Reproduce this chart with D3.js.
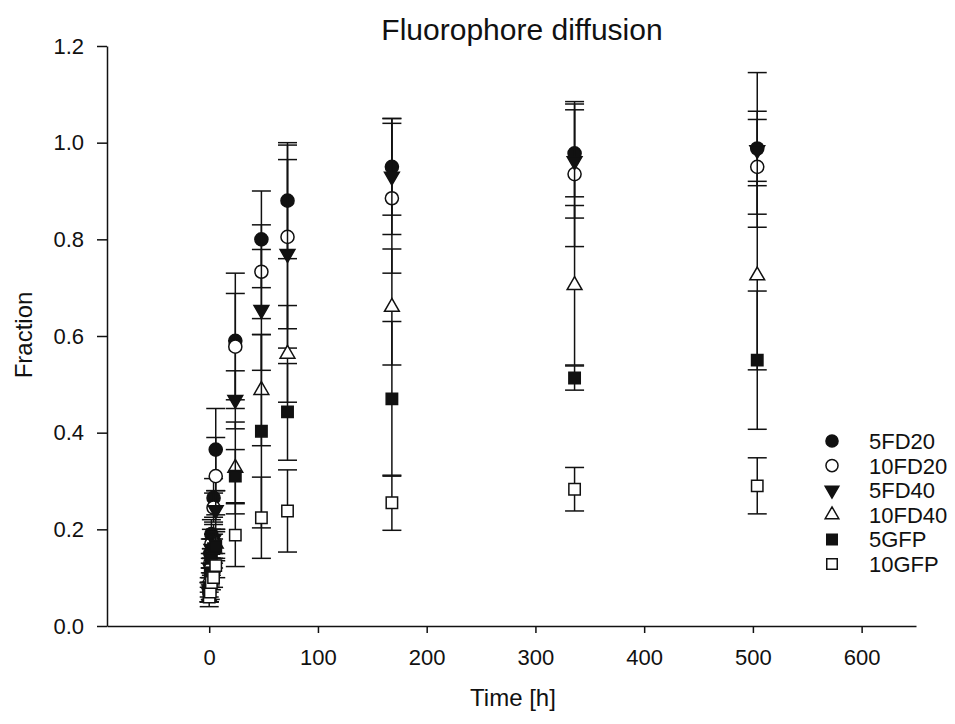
<!DOCTYPE html>
<html>
<head>
<meta charset="utf-8">
<script src="https://cdn.jsdelivr.net/npm/d3@7"></script>
<style>
  body { margin: 0; background: #fff; }
  svg { display: block; }
  text { font-family: "Liberation Sans", Arial, sans-serif; fill: #111; }
</style>
</head>
<body>
<svg id="chart" width="955" height="724"></svg>
<script>
// sampling times [h]
const times = [0, 1, 2, 4, 6, 24, 48, 72, 168, 336, 504];

// mean fractions per series
const fd20_5  = [0.08, 0.15, 0.19, 0.265, 0.365, 0.59, 0.80, 0.88, 0.95, 0.978, 0.988];
const fd20_10 = [0.07, 0.13, 0.17, 0.245, 0.31, 0.578, 0.733, 0.805, 0.885, 0.935, 0.95];
const fd40_5  = [0.07, 0.12, 0.16, 0.18, 0.24, 0.468, 0.654, 0.77, 0.93, 0.962, 0.985];
const fd40_10 = [0.06, 0.10, 0.13, 0.16, 0.17, 0.327, 0.488, 0.563, 0.66, 0.705, 0.725];
const gfp_5   = [0.07, 0.11, 0.14, 0.16, 0.165, 0.31, 0.403, 0.443, 0.47, 0.513, 0.55];
const gfp_10  = [0.06, 0.07, 0.09, 0.10, 0.125, 0.188, 0.224, 0.238, 0.255, 0.283, 0.29];

// standard deviations
const fd20_5_err  = [0.02, 0.03, 0.03, 0.04, 0.085, 0.14, 0.10, 0.12, 0.10, 0.09, 0.077];
const fd20_10_err = [0.02, 0.02, 0.03, 0.03, 0.08, 0.11, 0.097, 0.19, 0.155, 0.15, 0.098];
const fd40_5_err  = [0.02, 0.02, 0.02, 0.03, 0.04, 0.06, 0.125, 0.195, 0.12, 0.118, 0.16];
const fd40_10_err = [0.02, 0.02, 0.02, 0.03, 0.03, 0.095, 0.115, 0.10, 0.12, 0.165, 0.195];
const gfp_5_err   = [0.02, 0.02, 0.02, 0.02, 0.03, 0.055, 0.20, 0.10, 0.16, 0.025, 0.143];
const gfp_10_err  = [0.01, 0.015, 0.015, 0.02, 0.025, 0.065, 0.084, 0.085, 0.057, 0.045, 0.058];

const seriesNames = ['5FD20', '10FD20', '5FD40', '10FD40', '5GFP', '10GFP'];
const xTicks = [0, 100, 200, 300, 400, 500, 600];
const yTicks = [0, 0.2, 0.4, 0.6, 0.8, 1.0, 1.2];

const series = [
  { name: seriesNames[0], values: fd20_5,  err: fd20_5_err,  shape: 'circle',   filled: true },
  { name: seriesNames[1], values: fd20_10, err: fd20_10_err, shape: 'circle',   filled: false },
  { name: seriesNames[2], values: fd40_5,  err: fd40_5_err,  shape: 'triDown',  filled: true },
  { name: seriesNames[3], values: fd40_10, err: fd40_10_err, shape: 'triUp',    filled: false },
  { name: seriesNames[4], values: gfp_5,   err: gfp_5_err,   shape: 'square',   filled: true },
  { name: seriesNames[5], values: gfp_10,  err: gfp_10_err,  shape: 'square',   filled: false },
];

const svg = d3.select('#chart');

const x = d3.scaleLinear().domain([-94, 650]).range([107, 916]);
const y = d3.scaleLinear().domain([0, 1.2]).range([626, 46]);

// axes
svg.append('g')
  .attr('transform', `translate(0,${y(0)})`)
  .call(d3.axisBottom(x).tickValues(xTicks).tickSize(7).tickSizeOuter(0).tickPadding(16))
  .call(g => g.selectAll('text').attr('font-size', 22))
  .call(g => g.selectAll('line,path').attr('stroke', '#111').attr('stroke-width', 1.5));

svg.append('g')
  .attr('transform', `translate(${x(-94)},0)`)
  .call(d3.axisLeft(y).tickValues(yTicks).tickFormat(d3.format('.1f')).tickSize(10).tickSizeOuter(0).tickPadding(13))
  .call(g => g.selectAll('text').attr('font-size', 22))
  .call(g => g.selectAll('line,path').attr('stroke', '#111').attr('stroke-width', 1.5));

svg.selectAll('.tick text').attr('font-family', '"Liberation Sans", Arial, sans-serif').attr('fill', '#111');

// titles
svg.append('text').attr('x', 522).attr('y', 40).attr('text-anchor', 'middle')
  .attr('font-size', 30).text('Fluorophore diffusion');
svg.append('text').attr('x', 513).attr('y', 706).attr('text-anchor', 'middle')
  .attr('font-size', 24).text('Time [h]');
svg.append('text').attr('transform', 'translate(32,335) rotate(-90)').attr('text-anchor', 'middle')
  .attr('font-size', 24).text('Fraction');

function symbolPath(shape, scale = 1) {
  if (shape === 'circle') return d3.symbol(d3.symbolCircle, 135 * scale)();
  if (shape === 'square') return d3.symbol(d3.symbolSquare, 130 * scale)();
  return d3.symbol(d3.symbolTriangle, 95 * scale)();
}
function symbolTransform(shape, px, py) {
  if (shape === 'triDown') return `translate(${px},${py}) rotate(180)`;
  return `translate(${px},${py})`;
}

// error bars and markers, series by series
const capHalf = 9.5;
series.forEach(s => {
  const g = svg.append('g').attr('class', 'series');
  const pts = times.map((t, i) => ({ t, v: s.values[i], e: s.err[i] }));

  const eb = g.selectAll('g.eb').data(pts).enter().append('g').attr('class', 'eb')
    .attr('stroke', '#111').attr('stroke-width', 1.5);
  eb.append('line')
    .attr('x1', d => x(d.t)).attr('x2', d => x(d.t))
    .attr('y1', d => y(d.v - d.e)).attr('y2', d => y(d.v + d.e));
  eb.append('line')
    .attr('x1', d => x(d.t) - capHalf).attr('x2', d => x(d.t) + capHalf)
    .attr('y1', d => y(d.v + d.e)).attr('y2', d => y(d.v + d.e));
  eb.append('line')
    .attr('x1', d => x(d.t) - capHalf).attr('x2', d => x(d.t) + capHalf)
    .attr('y1', d => y(d.v - d.e)).attr('y2', d => y(d.v - d.e));

  g.selectAll('path.mark').data(pts).enter().append('path').attr('class', 'mark')
    .attr('d', symbolPath(s.shape))
    .attr('transform', d => symbolTransform(s.shape, x(d.t), y(d.v)))
    .attr('fill', s.filled ? '#111' : '#fff')
    .attr('stroke', '#111').attr('stroke-width', 1.5);
});

// legend
const legend = svg.append('g').attr('transform', 'translate(832,441)');
const rows = legend.selectAll('g').data(series).enter().append('g')
  .attr('transform', (d, i) => `translate(0,${i * 24.6})`);
rows.append('path')
  .attr('d', d => symbolPath(d.shape, 0.85))
  .attr('transform', d => symbolTransform(d.shape, 0, 0))
  .attr('fill', d => d.filled ? '#111' : '#fff')
  .attr('stroke', '#111').attr('stroke-width', 1.5);
rows.append('text').attr('x', 37).attr('y', 8).attr('font-size', 22).text(d => d.name);
</script>
</body>
</html>
